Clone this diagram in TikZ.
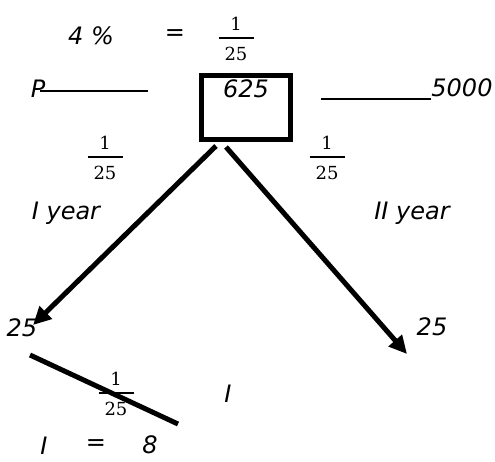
\documentclass[tikz,border=0pt]{standalone}
\usepackage{fontspec}
\setmainfont{DejaVu Sans}
\newfontfamily\fracfont{DejaVu Serif}
\usetikzlibrary{arrows.meta}
\tikzset{
  hand/.style={font=\fontsize{24}{28}\selectfont\itshape, inner sep=0pt, anchor=center},
  frac/.style={inner sep=0pt, anchor=center, font=\fontsize{18}{21}\fracfont},
  thickline/.style={line width=5pt},
  thinline/.style={line width=1.6pt},
  bigarrow/.style={line width=5pt, -{Triangle[length=18pt,width=17pt]}},
  boxstyle/.style={draw, line width=5pt, minimum width=89pt, minimum height=64pt, inner sep=0pt}
}
\newcommand{\myfrac}{\vbox{\hbox to 35pt{\hfil 1\hfil}\kern6pt\hrule height 1.8pt\kern8pt\hbox to 35pt{\hfil 25\hfil}}}
\begin{document}
\begin{tikzpicture}[x=1pt,y=-1pt]
\useasboundingbox (0,0) rectangle (495,461);
% top line
\node[hand] (pct) at (91,36) {4 \%};
\node[hand] (eq1) at (175,35) {=};
\node[frac] (f0) at (236,39) {\myfrac};
% box
\node[boxstyle] (box) at (246,107.5) {};
\node[hand] (n625) at (246,89) {625};
% P line
\node[hand] (P) at (38,89) {P};
\coordinate (pend) at (148,91);
\draw[thinline] (P.east) ++(-5,2) -- (pend);
% 5000 line
\node[hand] (n5000) at (462,88) {5000};
\coordinate (lstart) at (321,99);
\draw[thinline] (lstart) -- (n5000.west |- lstart);
% fractions and years
\node[frac] (f1) at (105,158) {\myfrac};
\node[frac] (f2) at (327,158) {\myfrac};
\node[hand] (y1) at (66,213) {I year};
\node[hand] (y2) at (412,213) {II year};
% arrows
\coordinate (a1s) at (216,146);
\coordinate (a1e) at (33,325);
\coordinate (a2s) at (226,147);
\coordinate (a2e) at (407,354);
\draw[bigarrow] (a1s) -- (a1e);
\draw[bigarrow] (a2s) -- (a2e);
\node[hand] (l25) at (22,328) {25};
\node[hand] (r25) at (432,327) {25};
% bottom slanted line
\coordinate (bs) at (30,355);
\coordinate (be) at (178,424);
\draw[thickline] (bs) -- (be);
\node[frac] (f3) at (116,394) {\myfrac};
\node[hand] (i1) at (228,394) {I};
\node[hand] (i2) at (44,446) {I};
\node[hand] (eq2) at (96,445) {=};
\node[hand] (n8) at (150,445) {8};
\end{tikzpicture}
\end{document}
